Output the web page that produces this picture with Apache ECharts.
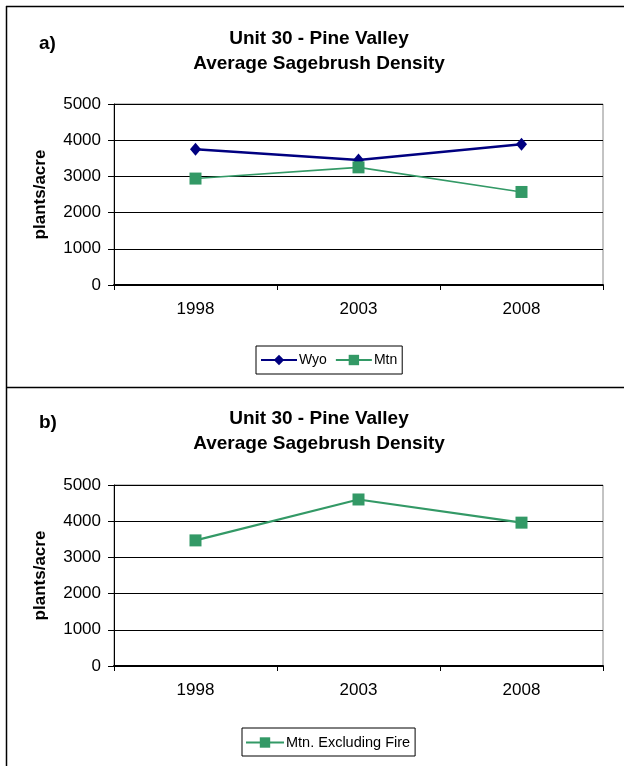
<!DOCTYPE html>
<html>
<head>
<meta charset="utf-8">
<script src="https://cdn.jsdelivr.net/npm/echarts@6/dist/echarts.min.js"></script>
<style>
html,body{margin:0;padding:0;background:#fff;}
#main{width:624px;height:766px;}
</style>
</head>
<body>
<div id="main"></div>
<script>
const years = ['1998', '2003', '2008'];
const wyo = [3750, 3450, 3890];
const mtn = [2940, 3250, 2570];
const mtnExFire = [3470, 4600, 3960];
const yTicks = { min: 0, max: 5000, interval: 1000 };
const titleLine1 = 'Unit 30 - Pine Valley';
const titleLine2 = 'Average Sagebrush Density';
const yName = 'plants/acre';

const FONT = 'Liberation Sans, Arial, sans-serif';
const chart = echarts.init(document.getElementById('main'), null, { renderer: 'canvas' });

function xAxis(gridIndex) {
  return {
    type: 'category', gridIndex, data: years, boundaryGap: true,
    axisLine: { show: true, lineStyle: { color: '#000', width: 2 } },
    axisTick: { show: true, length: 5, inside: false, lineStyle: { color: '#000', width: 1 } },
    axisLabel: { color: '#000', fontSize: 17, fontFamily: FONT, margin: 16 },
    splitLine: { show: false }
  };
}
function yAxis(gridIndex) {
  return {
    type: 'value', gridIndex, min: yTicks.min, max: yTicks.max, interval: yTicks.interval,
    name: yName, nameLocation: 'middle', nameGap: 65, nameRotate: 90,
    nameTextStyle: { color: '#000', fontSize: 17, fontWeight: 'bold', fontFamily: FONT },
    axisLine: { show: true, lineStyle: { color: '#000', width: 1 } },
    axisTick: { show: true, length: 6, lineStyle: { color: '#000', width: 1 } },
    axisLabel: { color: '#000', fontSize: 17, fontFamily: FONT, margin: 13, formatter: v => String(v) },
    splitLine: { show: true, lineStyle: { color: '#000', width: 1 } }
  };
}

const option = {
  backgroundColor: '#fff',
  animation: false,
  grid: [
    { left: 114, right: 21, top: 104, height: 181, show: true, borderColor: '#888', borderWidth: 1, backgroundColor: '#fff' },
    { left: 114, right: 21, top: 485, height: 181, show: true, borderColor: '#888', borderWidth: 1, backgroundColor: '#fff' }
  ],
  xAxis: [xAxis(0), xAxis(1)],
  yAxis: [yAxis(0), yAxis(1)],
  legend: [
    {
      data: ['Wyo', 'Mtn'], left: 256, top: 346, orient: 'horizontal',
      borderColor: '#000', borderWidth: 1, padding: [7, 5, 7, 4], itemGap: 8,
      itemWidth: 36, itemHeight: 13,
      textStyle: { color: '#000', fontSize: 14, fontFamily: FONT, padding: [0, 0, 0, -3] }
    },
    {
      data: ['Mtn. Excluding Fire'], left: 242, top: 728, orient: 'horizontal',
      borderColor: '#000', borderWidth: 1, padding: [7, 5, 6, 3],
      itemWidth: 38, itemHeight: 13,
      textStyle: { color: '#000', fontSize: 14.5, fontFamily: FONT, padding: [0, 0, 0, -3] }
    }
  ],
  series: [
    {
      name: 'Wyo', type: 'line', xAxisIndex: 0, yAxisIndex: 0, data: wyo,
      symbol: 'diamond', symbolSize: [11, 13],
      itemStyle: { color: '#000080' },
      lineStyle: { color: '#000080', width: 2.5 }
    },
    {
      name: 'Mtn', type: 'line', xAxisIndex: 0, yAxisIndex: 0, data: mtn,
      symbol: 'rect', symbolSize: 12,
      itemStyle: { color: '#339966' },
      lineStyle: { color: '#339966', width: 1.6 }
    },
    {
      name: 'Mtn. Excluding Fire', type: 'line', xAxisIndex: 1, yAxisIndex: 1, data: mtnExFire,
      symbol: 'rect', symbolSize: 12,
      itemStyle: { color: '#339966' },
      lineStyle: { color: '#339966', width: 2.2 }
    }
  ],
  graphic: [
    { type: 'line', shape: { x1: 6, y1: 6.5, x2: 624, y2: 6.5 }, style: { stroke: '#000', lineWidth: 1.5 } },
    { type: 'line', shape: { x1: 6.5, y1: 6, x2: 6.5, y2: 766 }, style: { stroke: '#000', lineWidth: 1.5 } },
    { type: 'line', shape: { x1: 6, y1: 387.5, x2: 624, y2: 387.5 }, style: { stroke: '#000', lineWidth: 1.5 } },
    { type: 'text', x: 39, y: 44, style: { text: 'a)', font: 'bold 19px ' + FONT, fill: '#000', textAlign: 'left', textVerticalAlign: 'middle' } },
    { type: 'text', x: 319, y: 39, style: { text: titleLine1, font: 'bold 19px ' + FONT, fill: '#000', textAlign: 'center', textVerticalAlign: 'middle' } },
    { type: 'text', x: 319, y: 64, style: { text: titleLine2, font: 'bold 19px ' + FONT, fill: '#000', textAlign: 'center', textVerticalAlign: 'middle' } },
    { type: 'text', x: 39, y: 423, style: { text: 'b)', font: 'bold 19px ' + FONT, fill: '#000', textAlign: 'left', textVerticalAlign: 'middle' } },
    { type: 'text', x: 319, y: 419, style: { text: titleLine1, font: 'bold 19px ' + FONT, fill: '#000', textAlign: 'center', textVerticalAlign: 'middle' } },
    { type: 'text', x: 319, y: 444, style: { text: titleLine2, font: 'bold 19px ' + FONT, fill: '#000', textAlign: 'center', textVerticalAlign: 'middle' } }
  ]
};
chart.setOption(option);
</script>
</body>
</html>
